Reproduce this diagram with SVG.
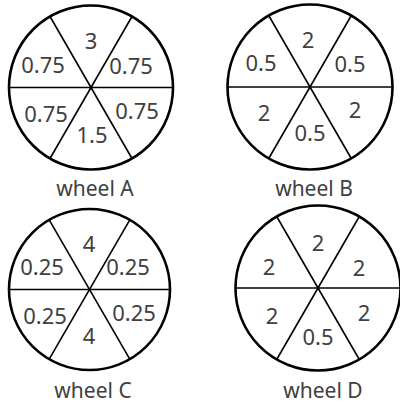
<svg xmlns="http://www.w3.org/2000/svg" width="400" height="403" viewBox="0 0 400 403">
<style>
.rim{fill:#fff;stroke:#000;stroke-width:2.6}
.sp{stroke:#000;stroke-width:1.6}
.t{font-family:"Noto Sans","Liberation Sans",sans-serif;font-size:22px;fill:#404040;text-anchor:middle}
.lb{font-family:"Noto Sans","Liberation Sans",sans-serif;font-size:21px;fill:#404040;text-anchor:middle}
</style>
<rect width="400" height="403" fill="#fff"/>
<g id="wheelA">
<circle class="rim" cx="91" cy="87.5" r="82"/>
<g class="sp">
<line x1="9" y1="87.5" x2="173" y2="87.5"/>
<line x1="50" y1="16.5" x2="132" y2="158.5"/>
<line x1="132" y1="16.5" x2="50" y2="158.5"/>
</g>
<text class="t" x="91" y="49">3</text>
<text class="t" x="43" y="73">0.75</text>
<text class="t" x="131" y="74">0.75</text>
<text class="t" x="46" y="122">0.75</text>
<text class="t" x="137" y="119">0.75</text>
<text class="t" x="92" y="143">1.5</text>
<text class="lb" x="95" y="196">wheel A</text>
</g>
<g id="wheelB">
<circle class="rim" cx="310" cy="87" r="82.5"/>
<g class="sp">
<line x1="227.5" y1="87" x2="392.5" y2="87"/>
<line x1="268.7" y1="15.5" x2="351.3" y2="158.5"/>
<line x1="351.3" y1="15.5" x2="268.7" y2="158.5"/>
</g>
<text class="t" x="308" y="48">2</text>
<text class="t" x="261" y="71">0.5</text>
<text class="t" x="350" y="72">0.5</text>
<text class="t" x="264" y="121">2</text>
<text class="t" x="355" y="118">2</text>
<text class="t" x="310" y="141">0.5</text>
<text class="lb" x="314" y="196">wheel B</text>
</g>
<g id="wheelC">
<circle class="rim" cx="89.5" cy="289.5" r="80.5"/>
<g class="sp">
<line x1="9" y1="289.5" x2="170" y2="289.5"/>
<line x1="49.2" y1="219.8" x2="129.8" y2="359.2"/>
<line x1="129.8" y1="219.8" x2="49.2" y2="359.2"/>
</g>
<text class="t" x="89" y="252">4</text>
<text class="t" x="42" y="275">0.25</text>
<text class="t" x="128" y="275">0.25</text>
<text class="t" x="45" y="324">0.25</text>
<text class="t" x="134" y="321">0.25</text>
<text class="t" x="89" y="344">4</text>
<text class="lb" x="93" y="398">wheel C</text>
</g>
<g id="wheelD">
<circle class="rim" cx="318" cy="288" r="82.5"/>
<g class="sp">
<line x1="235.5" y1="288" x2="400.5" y2="288"/>
<line x1="276.7" y1="216.5" x2="359.3" y2="359.5"/>
<line x1="359.3" y1="216.5" x2="276.7" y2="359.5"/>
</g>
<text class="t" x="318" y="251">2</text>
<text class="t" x="269" y="275">2</text>
<text class="t" x="359" y="276">2</text>
<text class="t" x="272" y="324">2</text>
<text class="t" x="364" y="321">2</text>
<text class="t" x="318" y="345">0.5</text>
<text class="lb" x="323" y="398">wheel D</text>
</g>
</svg>
